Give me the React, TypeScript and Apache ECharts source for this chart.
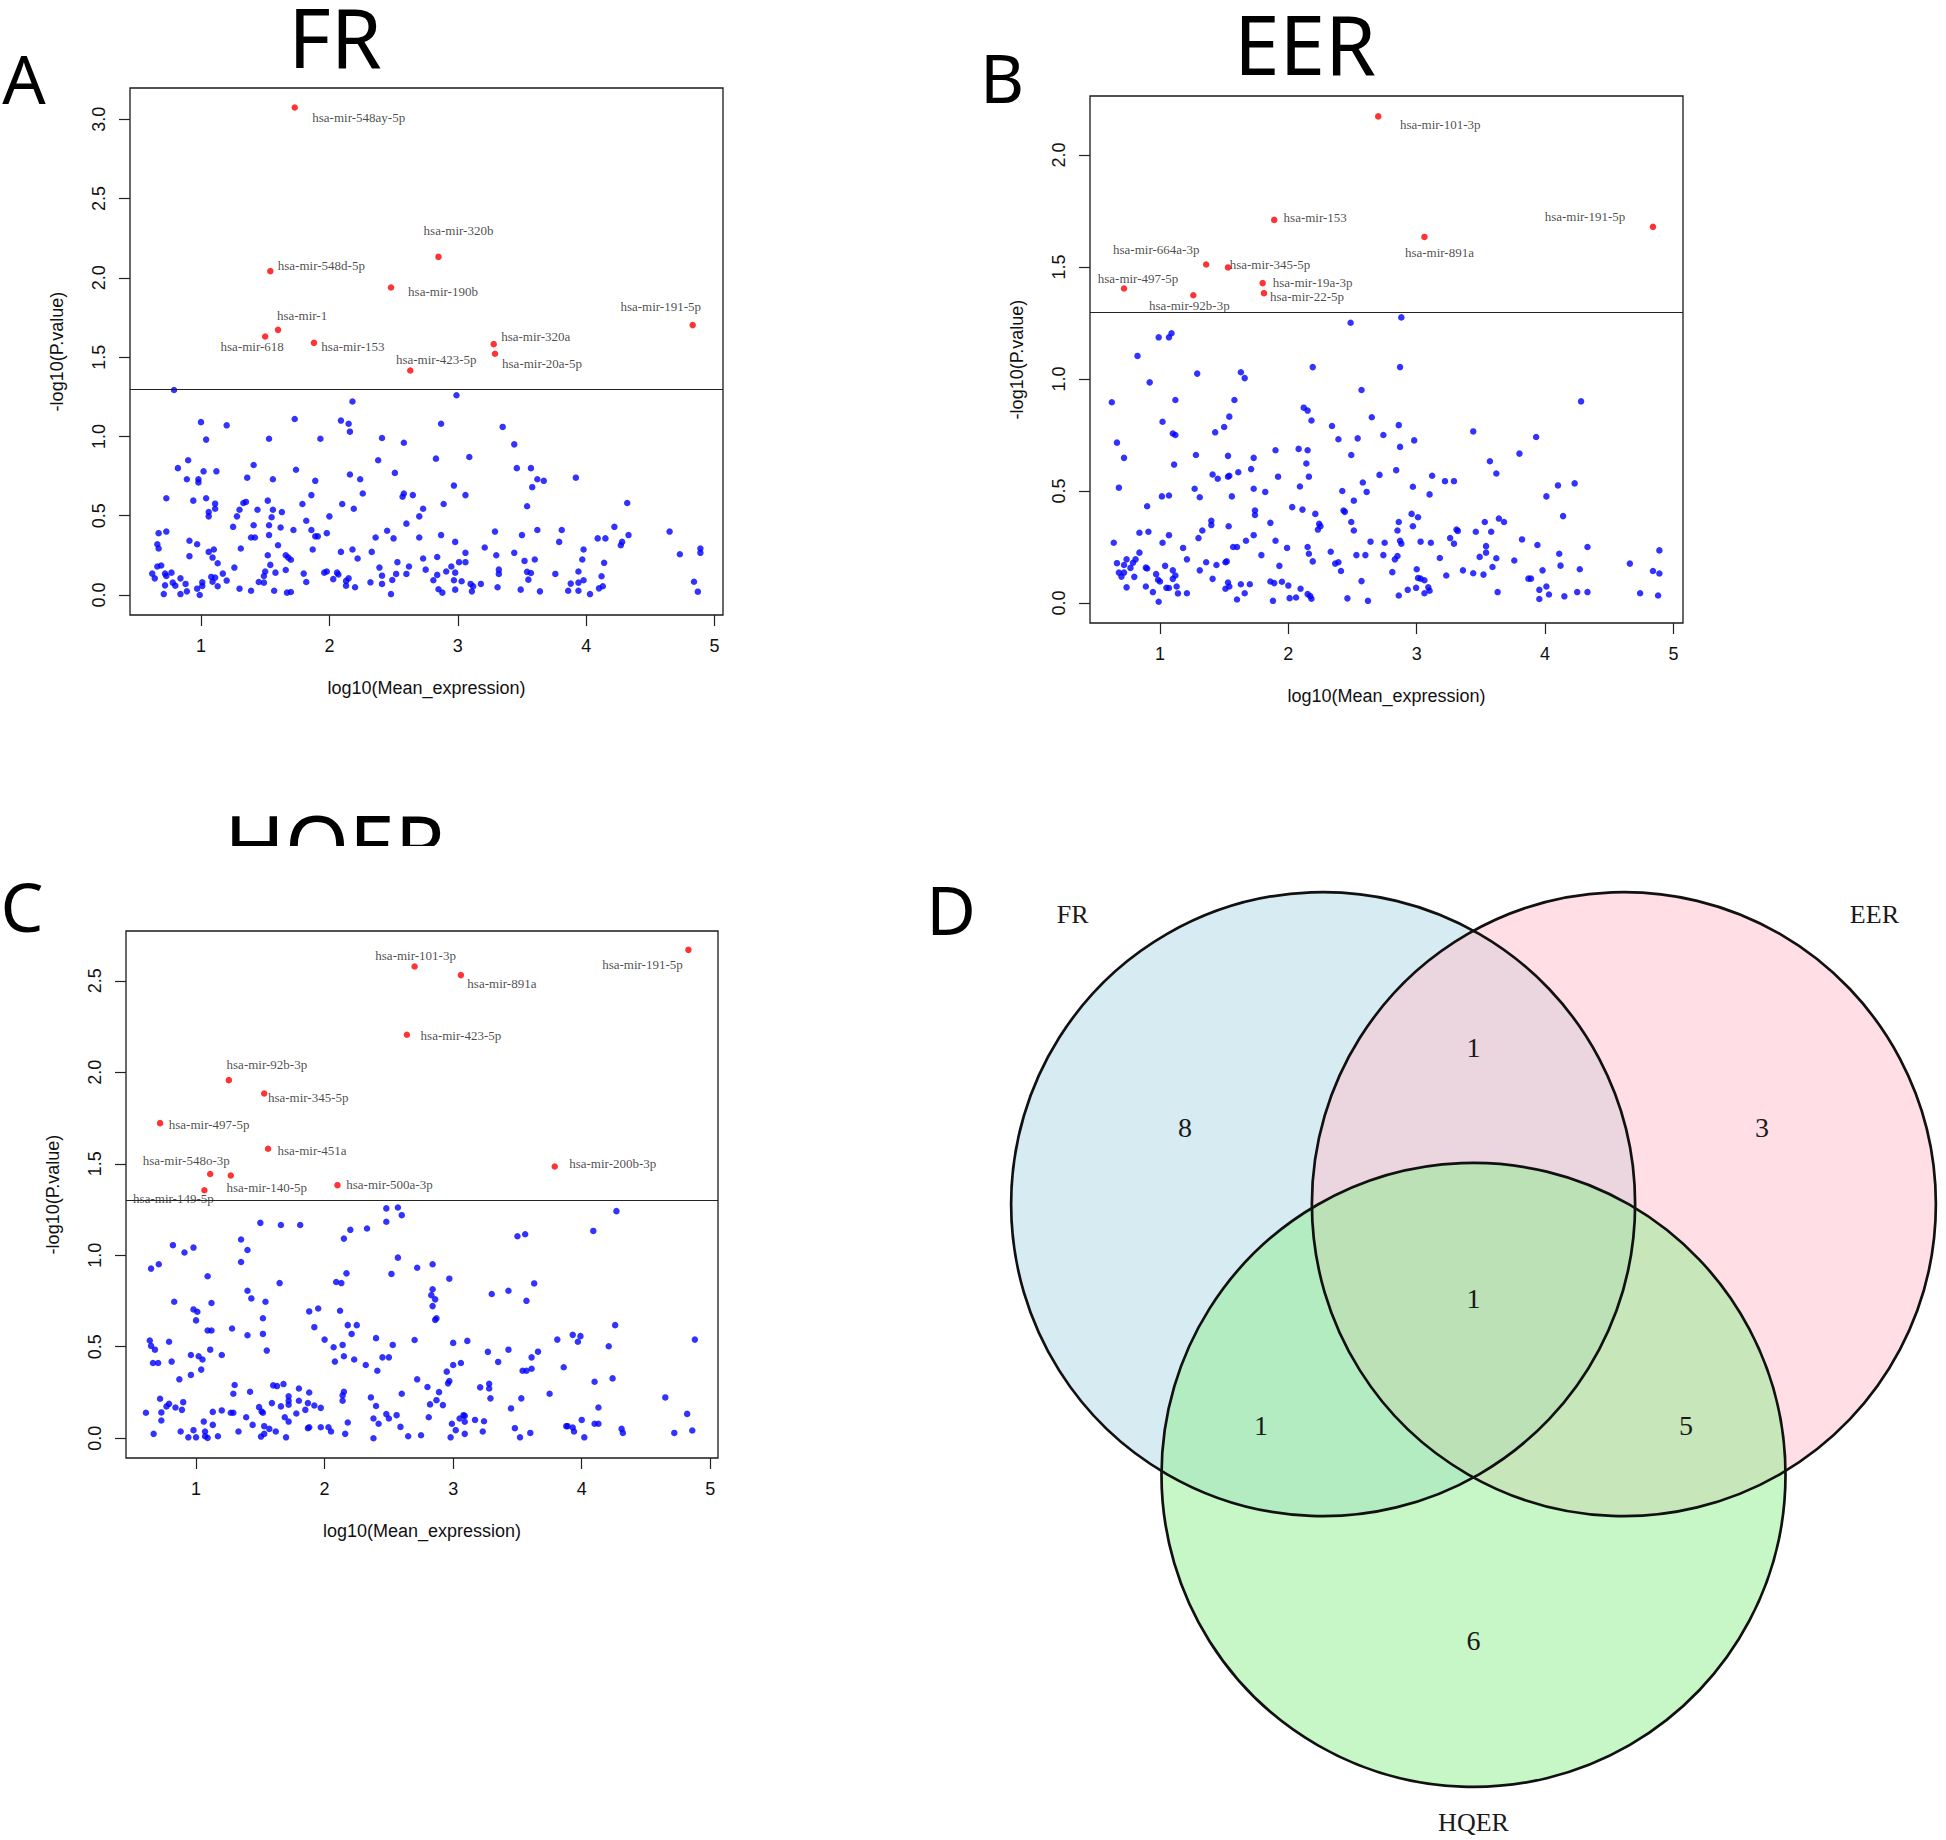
import React, { useEffect, useRef } from "react";
import * as echarts from "echarts";

// ---------------- Panel A : FR ----------------
const frRedNames = ["hsa-mir-548ay-5p", "hsa-mir-548d-5p", "hsa-mir-320b", "hsa-mir-190b", "hsa-mir-1", "hsa-mir-618", "hsa-mir-153", "hsa-mir-423-5p", "hsa-mir-320a", "hsa-mir-20a-5p", "hsa-mir-191-5p"];
const frRedX = [1.73, 1.54, 2.85, 2.48, 1.6, 1.5, 1.88, 2.63, 3.28, 3.29, 4.83];
const frRedY = [3.074, 2.042, 2.132, 1.939, 1.672, 1.63, 1.59, 1.416, 1.582, 1.521, 1.702];
const frBlue = [
  [0.79,1.293],[2.99,1.26],[2.18,1.22],[1.73,1.11],[2.09,1.1],[1.0,1.09],[2.15,1.08],[2.87,1.08],[1.2,1.07],[3.35,1.06],[2.16,1.03],[1.04,0.98],[1.53,0.985],[1.93,0.985],[2.41,0.99],[2.58,0.96],[3.44,0.95],[3.09,0.87],[2.38,0.85],[2.83,0.86],[0.9,0.85],[0.82,0.8],[1.12,0.78],[1.02,0.78],[1.74,0.79],[2.16,0.76],[2.51,0.77],[3.46,0.8],[3.57,0.8],[1.41,0.82],[0.89,0.73],[0.98,0.73],[1.36,0.74],[1.56,0.73],[1.89,0.72],[2.24,0.73],[3.62,0.73],[3.67,0.72],[3.92,0.74],[0.98,0.71],[2.97,0.69],[3.58,0.68],[2.26,0.64],[1.86,0.63],[2.57,0.62],[2.65,0.63],[3.06,0.63],[2.58,0.64],[0.73,0.61],[1.04,0.61],[0.94,0.595],[1.52,0.595],[4.32,0.58],[1.11,0.576],[1.33,0.58],[1.35,0.587],[1.79,0.574],[2.1,0.574],[2.89,0.574],[1.11,0.544],[1.3,0.538],[1.44,0.538],[1.56,0.538],[2.19,0.544],[2.73,0.544],[3.54,0.56],[1.06,0.523],[1.63,0.523],[1.06,0.496],[1.28,0.496],[1.55,0.49],[2.0,0.496],[2.7,0.496],[1.82,0.468],[2.6,0.45],[1.41,0.44],[1.25,0.43],[1.53,0.44],[1.62,0.426],[4.22,0.43],[1.72,0.41],[1.86,0.41],[2.45,0.405],[3.29,0.4],[3.62,0.41],[3.81,0.41],[4.65,0.4],[0.73,0.4],[0.67,0.39],[1.98,0.39],[1.53,0.378],[1.89,0.37],[2.87,0.378],[3.5,0.378],[4.33,0.378],[1.39,0.363],[1.42,0.363],[1.91,0.37],[2.36,0.363],[2.5,0.357],[2.7,0.363],[4.09,0.357],[4.15,0.357],[0.91,0.342],[2.98,0.335],[3.79,0.335],[4.28,0.335],[0.66,0.32],[0.97,0.32],[1.6,0.314],[4.27,0.314],[3.21,0.3],[0.67,0.293],[1.1,0.287],[1.31,0.293],[1.87,0.287],[2.18,0.287],[3.98,0.287],[4.89,0.293],[1.06,0.272],[2.09,0.272],[2.33,0.272],[3.06,0.266],[3.44,0.266],[4.89,0.266],[4.73,0.257],[1.52,0.251],[1.66,0.251],[3.3,0.251],[2.84,0.24],[0.91,0.245],[1.68,0.236],[1.09,0.236],[2.22,0.23],[2.73,0.23],[1.7,0.222],[3.6,0.224],[3.97,0.224],[3.52,0.215],[1.13,0.2],[2.53,0.207],[3.01,0.207],[3.06,0.207],[4.14,0.203],[1.54,0.19],[0.69,0.186],[0.66,0.18],[2.95,0.18],[2.62,0.18],[2.39,0.173],[1.26,0.173],[3.32,0.16],[2.75,0.16],[1.66,0.158],[2.91,0.148],[1.96,0.141],[1.98,0.148],[2.06,0.141],[3.54,0.146],[3.94,0.148],[0.62,0.135],[0.77,0.141],[0.72,0.135],[1.17,0.135],[1.5,0.148],[1.58,0.141],[1.8,0.135],[2.98,0.141],[3.32,0.133],[3.57,0.139],[2.52,0.133],[2.6,0.133],[3.76,0.133],[2.07,0.129],[1.49,0.12],[2.84,0.127],[4.12,0.118],[0.73,0.12],[0.64,0.105],[0.84,0.105],[1.08,0.114],[1.11,0.11],[2.15,0.105],[2.41,0.122],[2.03,0.1],[2.81,0.093],[2.13,0.089],[3.55,0.097],[3.98,0.093],[2.97,0.093],[3.03,0.087],[1.2,0.091],[2.49,0.095],[2.32,0.08],[4.84,0.084],[1.82,0.082],[1.45,0.082],[1.49,0.078],[0.78,0.078],[0.88,0.07],[1.01,0.08],[1.09,0.084],[2.41,0.07],[3.18,0.07],[3.1,0.07],[3.88,0.072],[3.94,0.078],[0.72,0.061],[0.8,0.059],[1.13,0.055],[2.13,0.059],[2.2,0.049],[3.12,0.055],[4.13,0.055],[3.31,0.049],[1.01,0.057],[4.1,0.042],[0.97,0.04],[1.3,0.04],[3.49,0.034],[2.85,0.036],[2.98,0.034],[3.86,0.027],[3.94,0.027],[1.39,0.027],[1.57,0.027],[0.89,0.023],[1.7,0.019],[1.67,0.015],[3.64,0.023],[3.11,0.023],[4.87,0.021],[0.71,0.006],[0.84,0.006],[0.99,0.0],[2.48,0.006],[2.88,0.015],[4.03,0.006]
];

// ---------------- Panel B : EER ----------------
const eerRedNames = ["hsa-mir-101-3p", "hsa-mir-153", "hsa-mir-191-5p", "hsa-mir-891a", "hsa-mir-664a-3p", "hsa-mir-345-5p", "hsa-mir-497-5p", "hsa-mir-92b-3p", "hsa-mir-19a-3p", "hsa-mir-22-5p"];
const eerRedX = [2.7, 1.89, 4.84, 3.06, 1.36, 1.53, 0.72, 1.26, 1.8, 1.81];
const eerRedY = [2.172, 1.71, 1.679, 1.634, 1.511, 1.498, 1.404, 1.374, 1.428, 1.383];
const eerBlue = [
  [2.88,1.275],[2.485,1.251],[1.09,1.204],[1.07,1.186],[0.99,1.186],[0.825,1.103],[2.19,1.053],[2.87,1.053],[1.29,1.024],[1.63,1.03],[1.66,1.004],[0.92,0.985],[2.57,0.951],[0.625,0.896],[1.12,0.906],[1.58,0.906],[4.28,0.9],[2.12,0.872],[2.15,0.859],[1.54,0.832],[2.65,0.829],
  [2.18,0.815],[1.02,0.809],[2.86,0.794],[2.34,0.79],[1.5,0.786],[1.43,0.762],[3.44,0.766],[1.1,0.757],[1.12,0.75],[2.74,0.75],[3.93,0.741],[2.54,0.735],[2.39,0.731],[2.98,0.726],[0.665,0.716],[2.87,0.697],[1.9,0.682],[2.08,0.688],[2.15,0.682],[3.8,0.667],[1.28,0.661],[1.53,0.657],[2.49,0.661],[1.73,0.648],[0.72,0.648],[3.57,0.633],[2.14,0.623],[1.11,0.618],[1.71,0.598],[2.84,0.593],[1.61,0.584],[3.62,0.578],[1.41,0.574],[2.71,0.572],[3.12,0.568],[1.54,0.568],[1.53,0.564],[1.45,0.555],[1.92,0.564],[2.16,0.564],[3.22,0.544],[3.29,0.544],[4.23,0.534],[2.58,0.538],[4.1,0.525],[2.09,0.52],[2.97,0.519],[0.68,0.515],[1.27,0.51],[1.73,0.51],[2.42,0.5],[2.61,0.496],[1.82,0.496],[3.1,0.485],[1.07,0.48],[1.015,0.476],[1.31,0.472],[1.56,0.476],[4.01,0.476],[2.51,0.457],[0.9,0.432],[2.03,0.428],[2.11,0.417],[1.74,0.413],[2.43,0.413],[2.44,0.407],[1.74,0.393],[2.21,0.398],[2.96,0.398],[3.01,0.383],[4.14,0.388],[3.64,0.377],[3.68,0.362],[1.4,0.367],[2.49,0.362],[2.86,0.362],[1.86,0.358],[3.53,0.362],[1.4,0.348],[1.535,0.343],[2.24,0.354],[2.25,0.343],[2.97,0.343],[3.31,0.328],[3.32,0.322],[1.33,0.324],[2.23,0.328],[2.85,0.324],[2.51,0.324],[3.46,0.318],[3.58,0.318],[0.84,0.314],[0.91,0.318],[1.07,0.303],[1.73,0.303],[3.26,0.29],[3.82,0.284],[1.3,0.29],[1.67,0.278],[1.9,0.278],[2.64,0.274],[2.75,0.269],[2.87,0.278],[2.88,0.265],[3.03,0.274],[3.11,0.269],[3.29,0.265],[0.64,0.269],[1.02,0.269],[3.94,0.259],[3.54,0.254],[1.57,0.25],[1.6,0.25],[2.15,0.25],[4.33,0.25],[1.18,0.246],[1.99,0.246],[4.89,0.235],[2.33,0.229],[0.84,0.225],[2.16,0.22],[2.53,0.214],[2.74,0.214],[2.6,0.214],[3.54,0.225],[4.11,0.22],[1.79,0.214],[2.85,0.21],[3.49,0.206],[3.18,0.201],[0.74,0.195],[0.81,0.195],[3.62,0.2],[1.21,0.195],[2.83,0.195],[2.19,0.186],[3.76,0.19],[0.79,0.18],[0.665,0.178],[0.72,0.17],[1.36,0.182],[1.51,0.182],[1.52,0.186],[2.365,0.176],[2.39,0.182],[4.66,0.176],[1.44,0.17],[1.04,0.166],[1.93,0.166],[4.12,0.167],[0.77,0.157],[0.89,0.158],[3.59,0.161],[0.9,0.154],[3.0,0.151],[4.27,0.151],[1.1,0.146],[1.31,0.146],[3.36,0.146],[3.98,0.146],[4.84,0.143],[0.68,0.136],[0.72,0.136],[2.41,0.143],[2.81,0.138],[3.44,0.133],[3.52,0.127],[3.23,0.123],[4.89,0.132],[0.97,0.129],[0.7,0.118],[0.8,0.117],[1.12,0.123],[3.01,0.112],[3.03,0.109],[3.87,0.109],[3.89,0.109],[1.41,0.108],[0.985,0.104],[1.1,0.108],[3.06,0.102],[1.0,0.096],[2.57,0.098],[1.86,0.096],[1.89,0.089],[1.95,0.095],[1.53,0.092],[1.54,0.074],[1.63,0.084],[1.7,0.084],[2.0,0.078],[0.89,0.074],[0.74,0.07],[1.05,0.068],[1.07,0.067],[1.13,0.074],[3.09,0.07],[2.095,0.064],[1.51,0.064],[2.93,0.059],[2.995,0.068],[3.955,0.059],[3.1,0.055],[4.01,0.074],[0.945,0.049],[1.66,0.044],[2.15,0.04],[3.06,0.044],[3.63,0.049],[4.25,0.049],[4.33,0.049],[1.14,0.043],[1.21,0.044],[4.74,0.044],[4.03,0.038],[2.17,0.031],[2.86,0.034],[4.15,0.03],[4.88,0.034],[1.6,0.016],[2.01,0.022],[2.06,0.025],[2.46,0.021],[2.18,0.019],[3.955,0.018],[1.88,0.01],[2.62,0.01],[0.99,0.006]
];

// ---------------- Panel C : HQER ----------------
const hqerRedNames = ["hsa-mir-101-3p", "hsa-mir-891a", "hsa-mir-191-5p", "hsa-mir-423-5p", "hsa-mir-92b-3p", "hsa-mir-345-5p", "hsa-mir-497-5p", "hsa-mir-451a", "hsa-mir-548o-3p", "hsa-mir-140-5p", "hsa-mir-149-5p", "hsa-mir-500a-3p", "hsa-mir-200b-3p"];
const hqerRedX = [2.7, 3.06, 4.83, 2.64, 1.255, 1.53, 0.72, 1.56, 1.11, 1.27, 1.065, 2.1, 3.79];
const hqerRedY = [2.578, 2.531, 2.669, 2.205, 1.957, 1.884, 1.722, 1.582, 1.444, 1.436, 1.355, 1.383, 1.485];
const hqerBlue = [
  [2.48,1.256],[2.57,1.261],[2.6,1.219],[4.27,1.241],[2.48,1.183],[1.5,1.177],[1.66,1.165],[1.81,1.165],[3.56,1.115],[3.5,1.104],[2.33,1.146],[2.2,1.139],[2.15,1.091],[4.09,1.133],[1.35,1.086],[0.82,1.055],[0.98,1.042],[0.91,1.015],[1.4,1.029],[2.57,0.987],[1.35,0.963],[0.71,0.951],[2.84,0.951],[0.65,0.927],[2.72,0.932],[2.17,0.901],[2.52,0.898],[1.09,0.885],[2.97,0.872],[2.09,0.854],[2.13,0.848],[1.65,0.848],[3.63,0.846],[2.84,0.814],[1.4,0.806],[3.43,0.806],[3.3,0.788],[2.83,0.782],[1.43,0.764],[2.86,0.759],[0.83,0.746],[1.54,0.746],[3.57,0.751],[1.12,0.739],[2.84,0.722],[1.95,0.709],[0.98,0.704],[1.01,0.691],[1.88,0.693],[2.12,0.697],[2.87,0.656],[2.86,0.647],[1.0,0.644],[1.52,0.656],[1.09,0.589],[1.12,0.589],[2.18,0.618],[2.25,0.618],[4.26,0.618],[1.28,0.6],[1.92,0.607],[2.21,0.57],[1.4,0.563],[1.52,0.57],[3.93,0.565],[3.99,0.558],[0.64,0.534],[2.0,0.539],[2.7,0.537],[2.4,0.547],[3.81,0.539],[3.11,0.532],[4.88,0.539],[0.79,0.527],[3.97,0.527],[3.0,0.521],[2.14,0.51],[2.53,0.51],[4.21,0.503],[0.65,0.505],[2.07,0.497],[0.68,0.484],[1.11,0.484],[3.43,0.484],[1.55,0.479],[3.27,0.472],[3.66,0.473],[0.96,0.455],[1.02,0.448],[1.2,0.455],[2.15,0.448],[2.45,0.442],[2.5,0.442],[3.61,0.442],[1.05,0.43],[2.23,0.43],[2.08,0.419],[3.35,0.417],[0.665,0.411],[0.705,0.411],[0.81,0.419],[3.06,0.411],[3.0,0.4],[2.32,0.4],[3.86,0.388],[1.04,0.375],[3.61,0.38],[2.41,0.369],[3.54,0.369],[3.57,0.369],[2.95,0.364],[0.96,0.346],[2.97,0.313],[4.1,0.309],[0.87,0.322],[2.72,0.322],[4.24,0.327],[1.3,0.291],[1.6,0.289],[1.63,0.285],[1.68,0.296],[3.28,0.298],[2.96,0.3],[2.8,0.28],[3.21,0.278],[3.28,0.272],[1.8,0.272],[1.42,0.254],[1.88,0.25],[2.15,0.254],[2.89,0.252],[2.6,0.243],[1.29,0.243],[3.75,0.243],[2.14,0.234],[1.72,0.229],[2.36,0.223],[4.65,0.223],[0.72,0.216],[3.29,0.218],[3.53,0.218],[1.72,0.205],[2.14,0.205],[2.87,0.208],[1.8,0.205],[1.59,0.192],[1.87,0.192],[0.79,0.188],[2.82,0.185],[2.92,0.181],[0.9,0.197],[1.92,0.179],[1.72,0.183],[0.77,0.174],[1.66,0.174],[1.97,0.166],[1.49,0.17],[2.4,0.176],[4.13,0.168],[0.84,0.168],[1.85,0.155],[0.89,0.155],[3.45,0.163],[0.73,0.141],[0.61,0.139],[1.13,0.144],[1.2,0.152],[1.27,0.139],[1.29,0.139],[1.51,0.146],[1.52,0.139],[1.78,0.135],[4.82,0.133],[2.81,0.115],[1.69,0.115],[1.39,0.115],[2.38,0.108],[2.5,0.108],[2.56,0.126],[2.48,0.132],[3.08,0.126],[3.09,0.122],[3.05,0.108],[3.17,0.1],[3.24,0.093],[0.73,0.097],[1.06,0.091],[1.72,0.091],[4.13,0.079],[4.1,0.079],[4.0,0.1],[2.99,0.079],[2.18,0.086],[2.42,0.079],[3.09,0.09],[1.13,0.073],[1.44,0.073],[1.53,0.066],[3.88,0.066],[3.89,0.066],[3.93,0.059],[2.59,0.062],[1.88,0.06],[1.87,0.055],[1.97,0.06],[2.03,0.06],[3.48,0.055],[1.57,0.051],[4.31,0.051],[2.05,0.037],[0.88,0.037],[1.33,0.037],[1.07,0.037],[0.98,0.044],[1.62,0.037],[3.94,0.037],[3.23,0.037],[4.86,0.042],[3.02,0.044],[0.67,0.024],[1.53,0.024],[2.16,0.024],[3.6,0.029],[4.32,0.029],[3.09,0.024],[4.72,0.029],[2.65,0.011],[2.75,0.016],[1.07,0.011],[1.17,0.011],[2.98,0.005],[0.94,0.005],[1.0,0.005],[1.09,0.002],[1.505,0.009],[1.7,0.005],[3.52,0.005],[4.02,0.005],[2.38,0.0]
];

// significance threshold (P = 0.05)
const pThreshold = 0.05;
const xTicks = [1, 2, 3, 4, 5];
const frYTicks = [0, 0.5, 1, 1.5, 2, 2.5, 3];
const eerYTicks = [0, 0.5, 1, 1.5, 2];
const hqerYTicks = [0, 0.5, 1, 1.5, 2, 2.5];

// ---------------- Panel D : Venn ----------------
const vennSetNames = ["FR", "EER", "HQER"];
const vennRegionNames = ["FR only", "EER only", "HQER only", "FR∩EER", "FR∩HQER", "EER∩HQER", "FR∩EER∩HQER"];
const vennRegionCounts = [8, 3, 6, 1, 1, 5, 1];

// ---------------- Layout (positions / styles) ----------------
const frLabelOffsets = [[64, 10], [51, -6], [20, -26], [52, 4], [24, -14], [-13, 10], [39, 4], [26, -11], [42, -8], [47, 10], [-32, -19]];
const eerLabelOffsets = [[62, 8], [41, -2], [-68, -10], [15, 16], [-50, -15], [42, -3], [14, -10], [-4, 10], [50, -1], [43, 3]];
const hqerLabelOffsets = [[1, -11], [41, 8], [-46, 15], [54, 1], [38, -16], [44, 4], [49, 1], [44, 2], [-24, -14], [36, 12], [-31, 8], [52, -1], [58, -3]];

// Venn geometry in units of the circle radius
const vennCircleCenters = [[-0.482, 0.289], [0.482, 0.289], [0, -0.579]];
const vennRadius = 1;
const vennRegionPos = [[-0.925, 0.536], [0.925, 0.536], [0, -1.109], [0, 0.792], [-0.681, -0.419], [0.681, -0.419], [0, -0.012]];
const vennSetLabelPos = [[-1.285, 1.216], [1.285, 1.216], [0, -1.692]];
const vennFills = ["rgba(173,216,230,0.5)", "rgba(255,192,203,0.5)", "rgba(144,238,144,0.5)"];

const SANS = "'Liberation Sans', Arial, sans-serif";
const SERIF = "'Liberation Serif', 'Times New Roman', serif";
const TITLE = "'Noto Sans', 'Open Sans', sans-serif";

const panels = [
  { grid: { left: 130, top: 88, width: 593, height: 527 }, x: [0.447, 5.066], y: [-0.126, 3.197], yTicks: frYTicks, blue: frBlue, names: frRedNames, rx: frRedX, ry: frRedY, offs: frLabelOffsets },
  { grid: { left: 1090, top: 96, width: 593, height: 527 }, x: [0.455, 5.074], y: [-0.089, 2.263], yTicks: eerYTicks, blue: eerBlue, names: eerRedNames, rx: eerRedX, ry: eerRedY, offs: eerLabelOffsets },
  { grid: { left: 126, top: 931, width: 592, height: 527 }, x: [0.455, 5.06], y: [-0.108, 2.772], yTicks: hqerYTicks, blue: hqerBlue, names: hqerRedNames, rx: hqerRedX, ry: hqerRedY, offs: hqerLabelOffsets },
];

function buildOption(): any {
  const grids: any[] = [];
  const xAxes: any[] = [];
  const yAxes: any[] = [];
  const series: any[] = [];
  const axisText = { fontFamily: SANS, fontSize: 18, color: "#111" };

  panels.forEach((p, i) => {
    grids.push({ ...p.grid, show: true, borderColor: "#1a1a1a", borderWidth: 1.3, backgroundColor: "transparent", containLabel: false });
    xAxes.push({
      gridIndex: i, type: "value", min: p.x[0], max: p.x[1], position: "bottom",
      axisLine: { show: false, onZero: false }, splitLine: { show: false },
      axisTick: { show: true, inside: false, length: 11, customValues: xTicks, lineStyle: { color: "#222", width: 1.2 } },
      axisLabel: { ...axisText, customValues: xTicks, margin: 22, formatter: (v: number) => String(v) },
      name: "log10(Mean_expression)", nameLocation: "middle", nameGap: 64, nameTextStyle: { ...axisText },
    });
    yAxes.push({
      gridIndex: i, type: "value", min: p.y[0], max: p.y[1], position: "left",
      axisLine: { show: false, onZero: false }, splitLine: { show: false },
      axisTick: { show: true, inside: false, length: 11, customValues: p.yTicks, lineStyle: { color: "#222", width: 1.2 } },
      axisLabel: { ...axisText, customValues: p.yTicks, rotate: 90, margin: 22, formatter: (v: number) => v.toFixed(1) },
      name: "-log10(P.value)", nameLocation: "middle", nameGap: 64, nameTextStyle: { ...axisText },
    });
    series.push({
      type: "scatter", xAxisIndex: i, yAxisIndex: i, symbolSize: 6.5, z: 2,
      itemStyle: { color: "#0000ff" }, data: p.blue, silent: true,
      markLine: {
        silent: true, symbol: "none", label: { show: false },
        lineStyle: { color: "#222", width: 1.2, type: "solid" },
        data: [{ yAxis: -Math.log10(pThreshold) }],
      },
    });
    series.push({
      type: "scatter", xAxisIndex: i, yAxisIndex: i, symbolSize: 6.5, z: 3, silent: true,
      itemStyle: { color: "#ff0000" },
      label: { show: true, position: "inside", formatter: "{b}", fontFamily: SERIF, fontSize: 13, color: "#1a1a1a", align: "center", verticalAlign: "middle" },
      data: p.names.map((n, k) => ({ name: n, value: [p.rx[k], p.ry[k]], label: { offset: p.offs[k] } })),
    });
  });

  // Venn panel (hidden cartesian, 1 unit = circle radius = 312 px)
  grids.push({ left: 1005.5, top: 795.1, width: 936, height: 1035.8, show: false });
  xAxes.push({ gridIndex: 3, type: "value", min: -1.5, max: 1.5, show: false });
  yAxes.push({ gridIndex: 3, type: "value", min: -1.72, max: 1.6, show: false });
  const circleData = vennCircleCenters.map((c, k) => [c[0], c[1], vennRadius, k]);
  const circleItem = (stroke: boolean) => (params: any, api: any) => {
    const c = api.coord([api.value(0), api.value(1)]);
    const r = api.size([api.value(2), 0])[0];
    return {
      type: "circle", shape: { cx: c[0], cy: c[1], r },
      style: stroke ? { fill: "none", stroke: "#111", lineWidth: 2.7 } : { fill: vennFills[api.value(3)], stroke: "none" },
    };
  };
  series.push({ type: "custom", xAxisIndex: 3, yAxisIndex: 3, z: 1, silent: true, data: circleData, renderItem: circleItem(false) });
  series.push({ type: "custom", xAxisIndex: 3, yAxisIndex: 3, z: 2, silent: true, data: circleData, renderItem: circleItem(true) });
  const textItem = (size: number) => (params: any, api: any) => {
    const c = api.coord([api.value(0), api.value(1)]);
    return {
      type: "text", x: c[0], y: c[1],
      style: { text: String(api.value(2)), fill: "#1a1a1a", fontFamily: SERIF, fontSize: size, align: "center", verticalAlign: "middle", textAlign: "center", textVerticalAlign: "middle" },
    };
  };
  series.push({
    type: "custom", xAxisIndex: 3, yAxisIndex: 3, z: 3, silent: true,
    dimensions: ["x", "y", "label"],
    data: vennRegionCounts.map((v, k) => [vennRegionPos[k][0], vennRegionPos[k][1], v]),
    renderItem: textItem(28),
  });
  series.push({
    type: "custom", xAxisIndex: 3, yAxisIndex: 3, z: 3, silent: true,
    dimensions: ["x", "y", { name: "label", type: "ordinal" }],
    data: vennSetNames.map((n, k) => [vennSetLabelPos[k][0], vennSetLabelPos[k][1], n]),
    renderItem: textItem(26),
  });

  const bigText = (text: string, x: number, y: number, size: number, lh: number, z = 10) => ({
    type: "text", x, y, z, silent: true,
    style: { text, fill: "#000", fontFamily: TITLE, fontSize: size, lineHeight: lh, align: "center", verticalAlign: "middle", textAlign: "center", textVerticalAlign: "middle" },
  });

  return {
    animation: false,
    backgroundColor: "#ffffff",
    textStyle: { fontFamily: SANS },
    grid: grids, xAxis: xAxes, yAxis: yAxes, series,
    graphic: [
      bigText("FR", 335, 36, 82, 62),
      bigText("EER", 1305, 43, 82, 62),
      bigText("HQER", 335, 843, 82, 62),
      { type: "rect", z: 11, silent: true, shape: { x: 180, y: 846, width: 320, height: 50 }, style: { fill: "#ffffff" } },
      bigText("A", 24, 77, 68, 56),
      bigText("B", 1002, 76, 68, 56),
      bigText("C", 22, 905, 68, 56),
      bigText("D", 951, 908, 68, 56),
    ],
  };
}

export default function App() {
  const ref = useRef<HTMLDivElement>(null);
  useEffect(() => {
    document.body.style.margin = "0";
    const chart = echarts.init(ref.current as HTMLDivElement, null, { renderer: "svg" });
    chart.setOption(buildOption());
    return () => chart.dispose();
  }, []);
  return <div ref={ref} style={{ width: 1946, height: 1840, background: "#fff" }} />;
}
